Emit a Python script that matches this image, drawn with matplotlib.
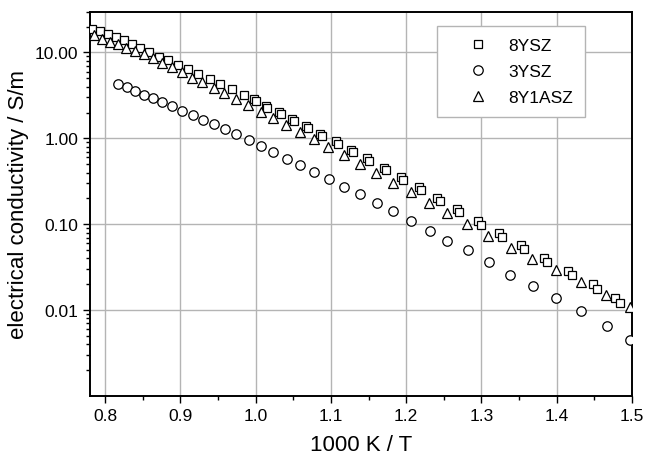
import numpy as np
import matplotlib
matplotlib.use('Agg')
from matplotlib import pyplot as plt
from matplotlib.ticker import LogLocator, MultipleLocator, FixedLocator, NullFormatter

plt.rcParams['font.family'] = ['Liberation Sans', 'DejaVu Sans']

# 8YSZ (main run)
x_8ysz = [0.7826, 0.7932, 0.8035, 0.8145, 0.8251, 0.8364, 0.8470, 0.8590, 0.8716, 0.8839,
          0.8972, 0.9105, 0.9238, 0.9393, 0.9533, 0.9689, 0.9845, 1.0000, 1.0154, 1.0332,
          1.0505, 1.0695, 1.0880, 1.1089, 1.1292, 1.1509, 1.1730, 1.1960, 1.2195, 1.2448,
          1.2704, 1.2989, 1.3267, 1.3567, 1.3872, 1.4197, 1.4533, 1.4838]
y_8ysz = [18.9, 17.9, 16.6, 15.3, 13.9, 12.5, 11.3, 10.1, 8.96, 8.11,
          7.10, 6.37, 5.57, 4.96, 4.30, 3.73, 3.18, 2.70, 2.28, 1.91,
          1.60, 1.32, 1.06, 0.869, 0.689, 0.545, 0.425, 0.328, 0.249, 0.187,
          0.138, 0.0986, 0.0719, 0.0512, 0.0368, 0.0255, 0.0178, 0.0121]

# 8YSZ (second run, shown as the doubled squares)
x_8ysz_b = [0.998, 1.0134, 1.031, 1.0483, 1.0672, 1.0857, 1.1065, 1.1267, 1.1483, 1.1702,
            1.1930, 1.2164, 1.2416, 1.2670, 1.2953, 1.3230, 1.3527, 1.3830, 1.4152, 1.4486,
            1.4770]
y_8ysz_b = [2.84, 2.40, 2.01, 1.69, 1.40, 1.13, 0.925, 0.735, 0.583, 0.456,
            0.353, 0.269, 0.203, 0.151, 0.108, 0.0790, 0.0566, 0.0408, 0.0284, 0.0199,
            0.0137]

# 3YSZ
x_3ysz = [0.8175, 0.8287, 0.8397, 0.8513, 0.8640, 0.8760, 0.8888, 0.9025, 0.9163, 0.9304,
          0.9446, 0.9588, 0.9742, 0.9907, 1.0066, 1.0234, 1.0412, 1.0588, 1.0778, 1.0973,
          1.1177, 1.1385, 1.1607, 1.1827, 1.2062, 1.2311, 1.2540, 1.2820, 1.3098, 1.3377,
          1.3683, 1.3997, 1.4320, 1.4665, 1.4967]
y_3ysz = [4.35, 3.96, 3.60, 3.23, 2.93, 2.65, 2.36, 2.08, 1.86, 1.64,
          1.46, 1.28, 1.12, 0.95, 0.816, 0.686, 0.582, 0.486, 0.406, 0.334,
          0.272, 0.222, 0.175, 0.141, 0.109, 0.0845, 0.0646, 0.0498, 0.0361, 0.0255,
          0.0190, 0.0138, 0.0098, 0.0065, 0.0045]

# 8Y1ASZ
x_8y1asz = [0.7857, 0.7955, 0.8065, 0.8175, 0.8282, 0.8397, 0.8513, 0.8636, 0.8760, 0.8892,
            0.9025, 0.9158, 0.9291, 0.9442, 0.9579, 0.9738, 0.9898, 1.0066, 1.0230, 1.0406,
            1.0588, 1.0770, 1.0964, 1.1173, 1.1385, 1.1598, 1.1819, 1.2058, 1.2301, 1.2545,
            1.2810, 1.3092, 1.3386, 1.3673, 1.3992, 1.4324, 1.4661, 1.4971]
y_8y1asz = [15.9, 14.5, 13.2, 12.4, 11.4, 10.5, 9.52, 8.73, 7.63, 6.85,
            5.93, 5.10, 4.54, 3.86, 3.38, 2.85, 2.43, 2.05, 1.73, 1.43,
            1.18, 0.977, 0.787, 0.641, 0.499, 0.392, 0.306, 0.238, 0.175, 0.134,
            0.0993, 0.0735, 0.0535, 0.0399, 0.0291, 0.0215, 0.0152, 0.0110]

x_ticks = [0.8, 0.9, 1.0, 1.1, 1.2, 1.3, 1.4, 1.5]
y_ticks = [0.01, 0.1, 1, 10]

fig = plt.figure(figsize=(6.45, 4.6), dpi=100)
ax = fig.add_axes([90/645, 1 - 397/460, 542/645, 384.5/460])

style = dict(ls='none', mfc='white', mec='black', mew=0.9, zorder=3)
ax.plot(x_8ysz_b, y_8ysz_b, 's', ms=6.0, **style)
ax.plot(x_8ysz, y_8ysz, 's', ms=6.0, label='8YSZ', **style)
ax.plot(x_3ysz, y_3ysz, 'o', ms=6.8, label='3YSZ', **style)
ax.plot(x_8y1asz, y_8y1asz, '^', ms=7.8, label='8Y1ASZ', **style)

ax.set_yscale('log')
ax.set_xlim(0.78, 1.5)
ax.set_ylim(0.001, 30)

ax.xaxis.set_major_locator(FixedLocator(x_ticks))
ax.xaxis.set_minor_locator(MultipleLocator(0.05))
ax.xaxis.set_major_formatter(plt.FuncFormatter(lambda v, p: f'{v:.1f}'))
ax.yaxis.set_major_locator(FixedLocator(y_ticks))
ax.yaxis.set_major_formatter(plt.FuncFormatter(lambda v, p: f'{v:.2f}'))
ax.yaxis.set_minor_locator(LogLocator(base=10, subs=np.arange(2, 10), numticks=20))
ax.yaxis.set_minor_formatter(NullFormatter())

ax.tick_params(which='both', direction='out', top=False, right=False, labelsize=12.5, width=1)
ax.tick_params(which='major', length=5)
ax.tick_params(which='minor', length=3)

ax.grid(True, which='major', color='#b4b4b4', lw=1)
ax.set_axisbelow(True)
for s in ax.spines.values():
    s.set_linewidth(1.4)

ax.set_xlabel('1000 K / T', fontsize=16, labelpad=8)
ax.set_ylabel('electrical conductivity / S/m', fontsize=16, labelpad=4)

# legend sits with its left edge at x~437 px, top at y~27 px
leg = ax.legend(loc='upper left', bbox_to_anchor=((437 - 90)/542, (397 - 26.7)/384.5),
                borderaxespad=0, fancybox=False, framealpha=1, edgecolor='#b4b4b4',
                fontsize=12.5, handlelength=3.3, handletextpad=0.1, borderpad=0.7,
                labelspacing=0.62)
leg.get_frame().set_linewidth(1)

plt.savefig('out.png', dpi=100)
